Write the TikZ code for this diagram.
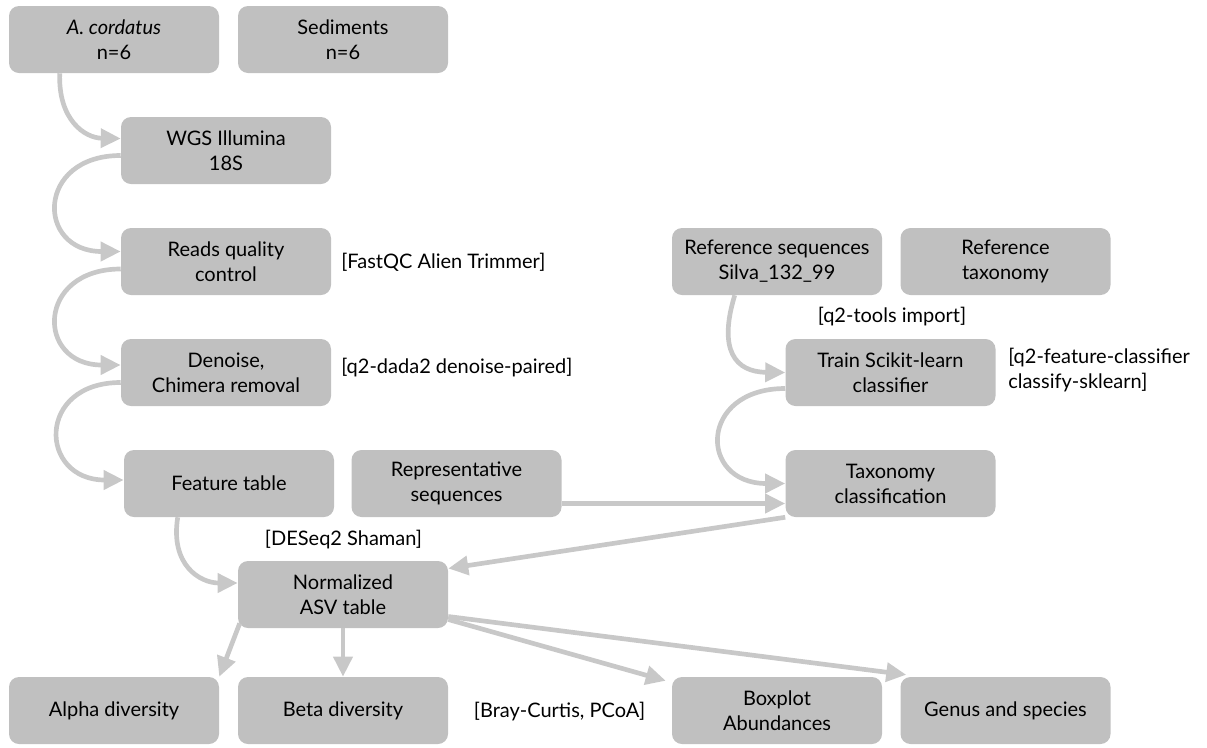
\documentclass[tikz,border=0pt]{standalone}
\usepackage{fontspec}
\setmainfont{Lato}
\usetikzlibrary{arrows.meta,calc}
\definecolor{boxgray}{RGB}{192,192,192}
\definecolor{flowgray}{RGB}{200,200,200}

\begin{document}
\begin{tikzpicture}[x=0.75pt,y=0.75pt,yscale=-1,xscale=1,
  box/.style={draw=none,fill=boxgray,rounded corners=7.5pt,minimum width=157.5pt,
    minimum height=50.25pt,inner sep=0pt,align=center,font=\fontsize{15}{18.75}\selectfont},
  flow/.style={draw=flowgray,line width=3.5pt,-{Triangle[length=15pt,width=14pt]}},
  tool/.style={font=\fontsize{15}{18.75}\selectfont,inner sep=0pt}]
\useasboundingbox (0,0) rectangle (1207,747);

% samples
\node[box] (acord) at (114,39.5) {\textit{A. cordatus}\\n=6};
\node[box] (sedi) at (343,39.5) {Sediments\\n=6};

% main pipeline
\node[box] (wgs) at (226,150.5) {WGS Illumina\\18S};
\node[box] (reads) at (226,261.5) {Reads quality\\control};
\node[box] (denoise) at (226,372.5) {Denoise,\\Chimera removal};
\node[box] (feat) at (229,483.5) {Feature table};
\node[box] (repr) at (456.5,483.5) {Representative\\sequences};

% reference side
\node[box] (refseq) at (777,261.5) {Reference sequences\\Silva\_132\_99};
\node[box] (reftax) at (1005.5,261.5) {Reference\\taxonomy};
\node[box] (train) at (890.5,372.5) {Train Scikit-learn\\classifier};
\node[box] (tax) at (890.5,483.5) {Taxonomy\\classification};

% normalisation and results
\node[box] (norm) at (343,594.5) {Normalized\\ASV table};
\node[box] (alpha) at (114,710.5) {Alpha diversity};
\node[box] (beta) at (343,710.5) {Beta diversity};
\node[box] (boxp) at (777,710.5) {Boxplot\\Abundances};
\node[box] (genus) at (1005.5,710.5) {Genus and species};

% tool labels
\node[tool,anchor=west] (fastqc) at (341,262) {[FastQC Alien Trimmer]};
\node[tool,anchor=west] (dada) at (341,368) {[q2-dada2 denoise-paired]};
\node[tool] (import) at (892,317) {[q2-tools import]};
\node[tool,anchor=west,align=left] (sklearn) at (1008,370) {[q2-feature-classifier\\classify-sklearn]};
\node[tool] (deseq) at (343.5,540) {[DESeq2 Shaman]};
\node[tool] (bray) at (559.5,712) {[Bray-Curtis, PCoA]};

% curved connectors
\draw[flow] ($(acord.south west)+(51,0)$) .. controls (58,120) and (85,138) .. ($(wgs.west)+(0,-12)$);
\draw[flow] ($(wgs.west)+(0,5)$) .. controls +(-85,0) and +(-85,0) .. ($(reads.west)+(0,-10)$);
\draw[flow] ($(reads.west)+(0,7.5)$) .. controls +(-85,0) and +(-85,0) .. ($(denoise.west)+(0,-7.5)$);
\draw[flow] ($(denoise.west)+(0,10)$) .. controls +(-85,0) and +(-85,0) .. ($(feat.west)+(0,-3.5)$);
\draw[flow] ($(feat.south west)+(54,0)$) .. controls (170,565) and (200,583) .. ($(norm.west)+(0,-11.5)$);
\draw[flow] ($(refseq.south west)+(63,0)$) .. controls (718,350) and (735,372) .. (train.west);
\draw[flow] ($(train.west)+(0,16)$) .. controls +(-87,0) and +(-87,0) .. (tax.west);

% straight connectors
\draw[flow] ($(repr.east)+(0,20)$) -- ($(tax.west)+(0,20)$);
\draw[flow] (tax.south west) -- ($(norm.east)+(0,-26)$);
\draw[flow] ($(norm.south west)+(2,-5)$) -- (alpha.north east);
\draw[flow] (norm.south) -- (beta.north);
\draw[flow] ($(norm.east)+(0,25)$) -- ($(boxp.north west)+(-6,4)$);
\draw[flow] ($(norm.east)+(0,22)$) -- ($(genus.north west)+(6,-2)$);

\end{tikzpicture}
\end{document}
